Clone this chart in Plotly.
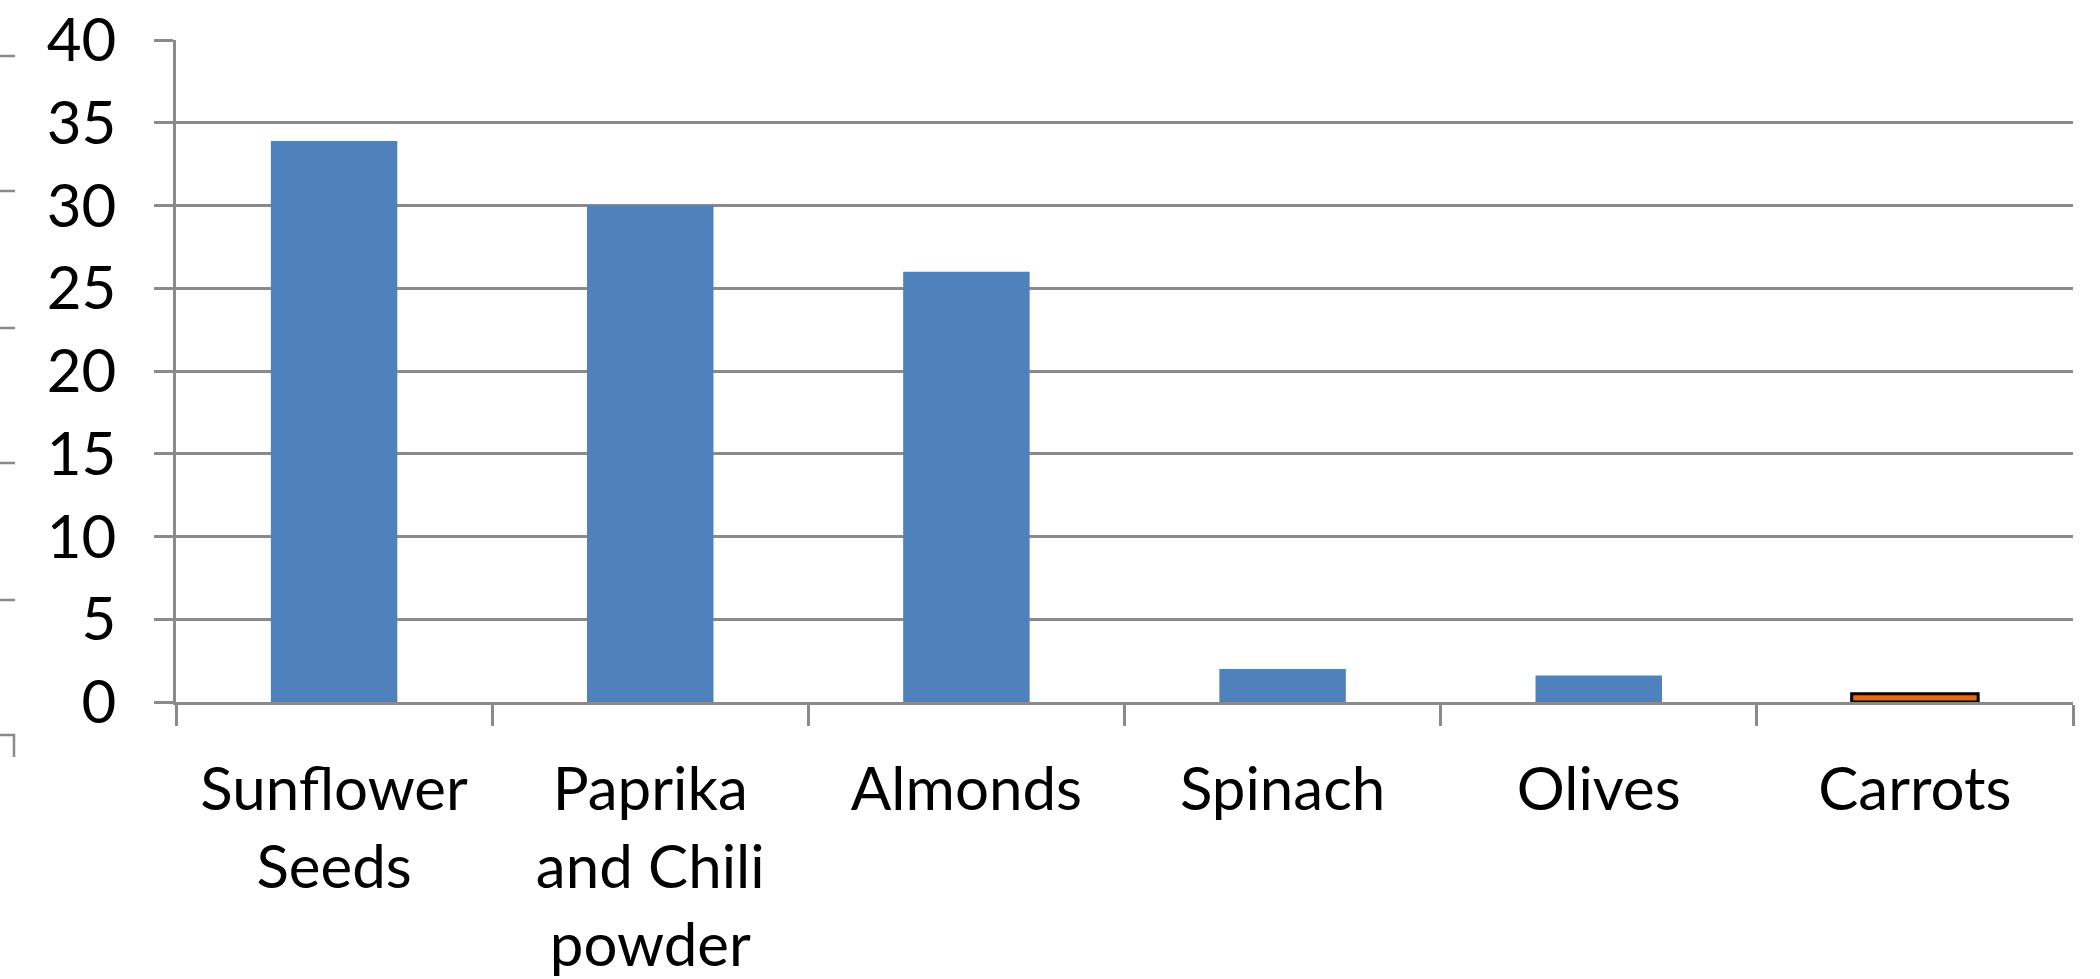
import plotly.graph_objects as go

# Food items and their values
categories = ["Sunflower<br>Seeds", "Paprika<br>and Chili<br>powder", "Almonds",
              "Spinach", "Olives", "Carrots"]
values = [33.9, 30, 26, 2, 1.6, 0.5]
y_ticks = [0, 5, 10, 15, 20, 25, 30, 35, 40]

BLUE = "#4F81BD"
ORANGE = "#E46C0A"
GRID = "#8A8A8A"
FONT = "Lato"

fill_colors = [BLUE] * (len(categories) - 1) + [ORANGE]
edge_colors = [BLUE] * (len(categories) - 1) + ["#000000"]
edge_widths = [0] * (len(categories) - 1) + [3]

fig = go.Figure(
    go.Bar(
        x=categories,
        y=values,
        width=0.4,
        marker=dict(color=fill_colors, line=dict(color=edge_colors, width=edge_widths)),
    )
)

W, H = 2100, 979
L, R, T, B = 176, 27, 40, 277

fig.update_layout(
    width=W, height=H,
    margin=dict(l=L, r=R, t=T, b=B, pad=0),
    plot_bgcolor="white", paper_bgcolor="white",
    showlegend=False,
    font=dict(family=FONT, size=60, color="#000000"),
)

fig.update_yaxes(
    range=[0, 40],
    tickvals=y_ticks,
    automargin=False,
    showgrid=True, gridcolor=GRID, gridwidth=2.5,
    showline=True, linecolor=GRID, linewidth=2.5,
    ticks="outside", ticklen=19, tickwidth=2.5, tickcolor=GRID,
    ticklabelstandoff=26,
    zeroline=False,
    tickfont=dict(family=FONT, size=60),
)

fig.update_xaxes(
    automargin=False,
    showline=True, linecolor=GRID, linewidth=2.5,
    ticks="outside", tickson="boundaries", ticklen=21, tickwidth=2.5, tickcolor=GRID,
    tickfont=dict(family=FONT, size=60),
    ticklabelstandoff=33,
)

# Edge of a neighbouring chart's gridlines at the far left
plot_w = W - L - R
plot_h = H - T - B
def px_x(x):
    return (x - L) / plot_w
def px_y(y):
    return (H - B - y) / plot_h

stub_rows = [56, 191, 328, 463, 600]
for yy in stub_rows:
    fig.add_shape(type="line", xref="paper", yref="paper",
                  x0=px_x(0), x1=px_x(15), y0=px_y(yy), y1=px_y(yy),
                  line=dict(color=GRID, width=2.5))
fig.add_shape(type="path", xref="paper", yref="paper",
              path=f"M {px_x(0)},{px_y(735)} L {px_x(14)},{px_y(735)} L {px_x(14)},{px_y(757)}",
              line=dict(color=GRID, width=2.5))

fig.write_html("out.html")
